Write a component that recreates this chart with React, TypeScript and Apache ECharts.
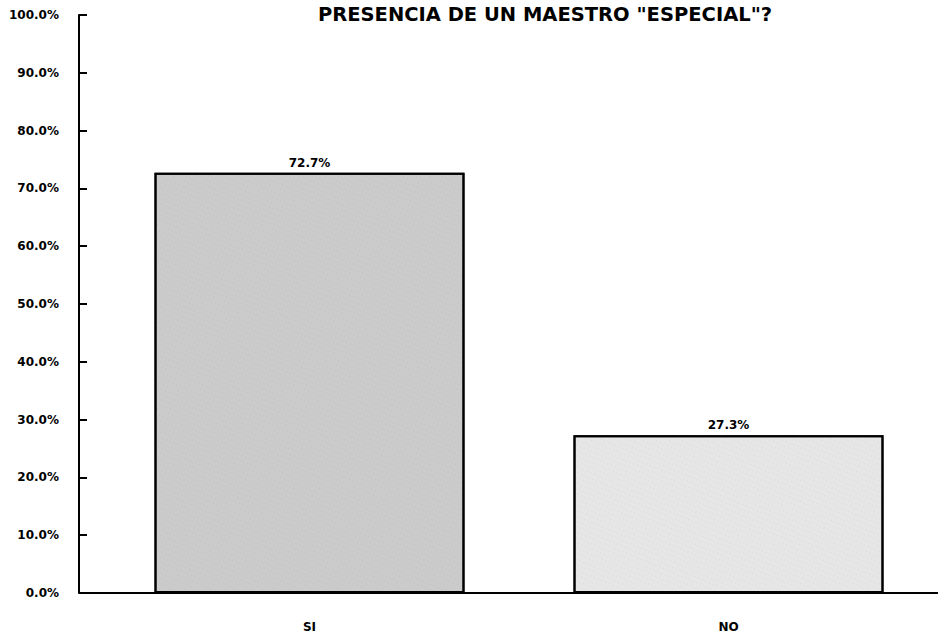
import React, { useEffect, useRef } from "react";
import * as echarts from "echarts";

const categories = ["SI", "NO"];
const values = [72.7, 27.3];
const barFills = ["#cbcbcb", "#e6e6e6"];
const yTicks = [0, 10, 20, 30, 40, 50, 60, 70, 80, 90, 100];
const titleText = 'PRESENCIA DE UN MAESTRO "ESPECIAL"?';

export default function App() {
  const ref = useRef<HTMLDivElement>(null);
  useEffect(() => {
    if (!ref.current) return;
    const chart = echarts.init(ref.current, null, { renderer: "svg" });
    const font = "'DejaVu Sans', Arial, sans-serif";
    chart.setOption({
      animation: false,
      backgroundColor: "#ffffff",
      aria: { enabled: true, decal: { show: true } },
      title: {
        text: titleText,
        left: 540,
        textAlign: "center",
        top: -1,
        textStyle: { fontFamily: font, fontWeight: 900, fontSize: 19.5, color: "#000" },
      },
      grid: { left: 100, right: -2, top: 15, bottom: 40 },
      xAxis: {
        type: "category",
        data: categories,
        axisLine: { lineStyle: { color: "#000", width: 2 } },
        axisTick: { show: false },
        axisLabel: {
          margin: 28,
          fontFamily: font,
          fontWeight: 900,
          fontSize: 12,
          color: "#000",
        },
      },
      yAxis: {
        type: "value",
        min: yTicks[0],
        max: yTicks[yTicks.length - 1],
        interval: 10,
        offset: 21,
        axisLine: { show: true, lineStyle: { color: "#000", width: 2 } },
        axisTick: { show: true, inside: true, length: 8, lineStyle: { color: "#000", width: 2 } },
        splitLine: { show: false },
        axisLabel: {
          margin: 20,
          fontFamily: font,
          fontWeight: 900,
          fontSize: 12,
          color: "#000",
          formatter: (v: number) => v.toFixed(1) + "%",
        },
      },
      graphic: [
        {
          type: "line",
          shape: { x1: 79, y1: 593, x2: 101, y2: 593 },
          style: { stroke: "#000", lineWidth: 2 },
        },
      ],
      series: [
        {
          type: "bar",
          data: values.map((v, i) => ({
            value: v,
            itemStyle: { color: barFills[i] },
          })),
          barWidth: 310,
          itemStyle: {
            borderColor: "#000",
            borderWidth: 2,
            decal: {
              symbol: "rect",
              symbolSize: 0.35,
              color: "rgba(40,40,40,0.45)",
              dashArrayX: [1, 3],
              dashArrayY: [1, 4],
              rotation: 0.4,
            },
          },
          label: {
            show: true,
            position: "top",
            distance: 4,
            fontFamily: font,
            fontWeight: 900,
            fontSize: 12,
            color: "#000",
            formatter: (p: any) => p.value.toFixed(1) + "%",
          },
        },
      ],
    });
    return () => chart.dispose();
  }, []);
  return (
    <div
      ref={ref}
      style={{ position: "fixed", left: 0, top: 0, width: 938, height: 633 }}
    />
  );
}
